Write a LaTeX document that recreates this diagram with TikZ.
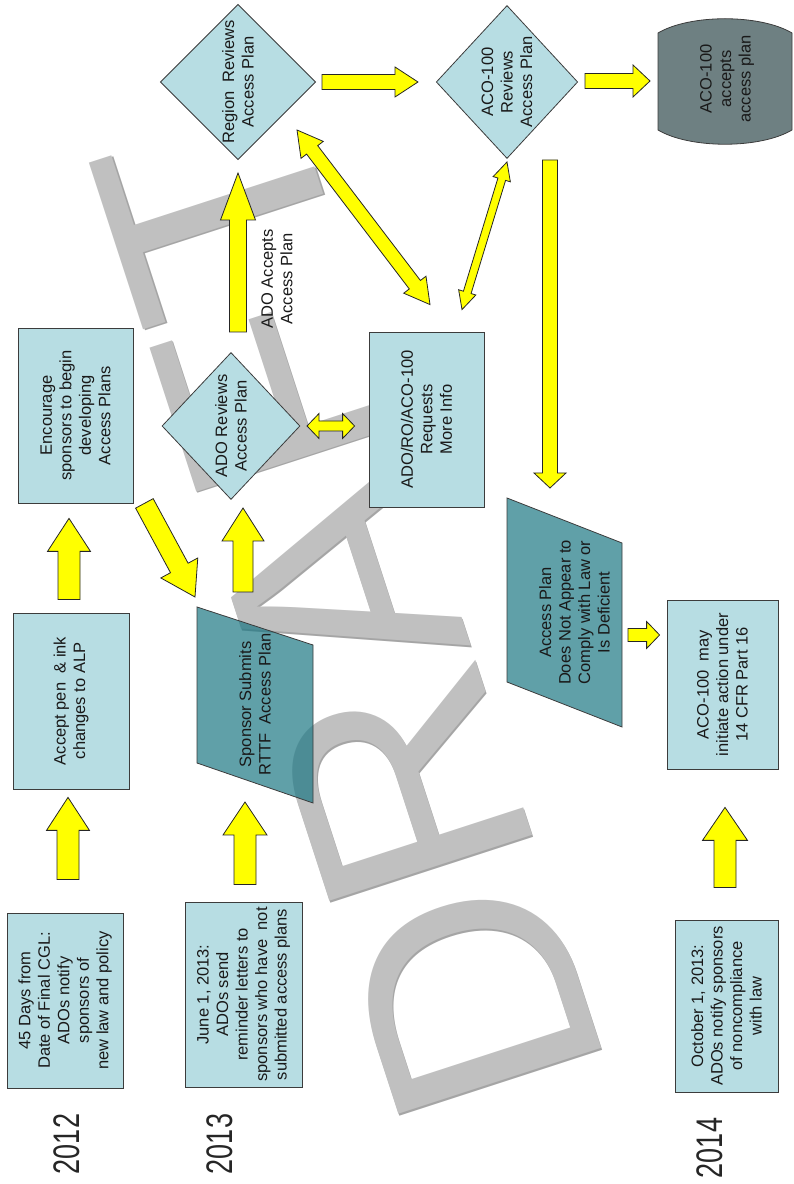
\documentclass[tikz,border=0pt]{standalone}
\usepackage{fontspec}
\setmainfont{Liberation Sans}
\usetikzlibrary{shapes.geometric,calc}

\definecolor{boxblue}{RGB}{183,221,227}
\definecolor{planteal}{RGB}{28,119,131}
\definecolor{okgray}{RGB}{110,128,130}
\definecolor{edge}{RGB}{60,60,60}
\definecolor{ayellow}{RGB}{255,255,0}
\definecolor{wmgray}{RGB}{192,192,192}
\definecolor{wmshade}{RGB}{165,165,165}

\newcommand{\boxfont}{\fontsize{16.5}{19.5}\selectfont}
\newcommand{\yearfont}{\fontsize{37}{37}\selectfont}

% block arrow: from, to, half shaft, half head, head length
\newcommand{\onearrow}[5]{%
  \coordinate (ys) at #1;
  \coordinate (yt) at #2;
  \coordinate (yh) at ($(yt)!#5!(ys)$);
  \draw[yarrow] ($(ys)!#3!90:(yt)$) -- ($(yh)!#3!90:(yt)$) -- ($(yh)!#4!90:(yt)$) -- (yt)
    -- ($(yh)!#4!-90:(yt)$) -- ($(yh)!#3!-90:(yt)$) -- ($(ys)!#3!-90:(yt)$) -- cycle;
}
\newcommand{\twoarrow}[5]{%
  \coordinate (ys) at #1;
  \coordinate (yt) at #2;
  \coordinate (yh) at ($(yt)!#5!(ys)$);
  \coordinate (yg) at ($(ys)!#5!(yt)$);
  \draw[yarrow] (ys) -- ($(yg)!#4!-90:(ys)$) -- ($(yg)!#3!-90:(ys)$) -- ($(yh)!#3!90:(yt)$)
    -- ($(yh)!#4!90:(yt)$) -- (yt) -- ($(yh)!#4!-90:(yt)$) -- ($(yh)!#3!-90:(yt)$)
    -- ($(yg)!#3!90:(ys)$) -- ($(yg)!#4!90:(ys)$) -- cycle;
}

\begin{document}
\begin{tikzpicture}[x=1pt,y=1pt,
  box/.style={draw=edge,fill=boxblue,line width=0.8pt,rotate=90,align=center,inner sep=1pt,font=\boxfont,text=black!90},
  decide/.style={diamond,draw=edge,fill=boxblue,line width=0.8pt,rotate=90,align=center,inner sep=0pt,font=\boxfont,text=black!90},
  plan/.style={draw=edge,fill=planteal,fill opacity=0.7,line width=0.8pt},
  plantext/.style={rotate=90,align=center,font=\boxfont,text=black!90},
  yarrow/.style={draw=black!85,fill=ayellow,line width=0.8pt},
  year/.style={rotate=90,font=\yearfont,text=black!85}]
\useasboundingbox (0,0) rectangle (793,1184);

% watermark
\node[rotate=108,anchor=base west,inner sep=0pt,text=wmshade,font=\fontsize{310}{310}\selectfont] at (611,109.5) {DRAFT};
\node[rotate=108,anchor=base west,inner sep=0pt,text=wmgray,font=\fontsize{310}{310}\selectfont] (wm) at (609.4,111.2) {DRAFT};

\node[year] (y12) at (67,40) {\scalebox{0.73}[1]{2012}};
\node[year] (y13) at (220,40) {\scalebox{0.73}[1]{2013}};
\node[year] (y14) at (710,36) {\scalebox{0.73}[1]{2014}};

\node[box,minimum width=175,minimum height=116] (notify) at (65,183.5) {45 Days from\\Date of Final CGL:\\ADOs notify\\sponsors of\\new law and policy};
\node[box,minimum width=185,minimum height=117] (remind) at (243.5,189.5) {June 1, 2013:\\ADOs send\\reminder letters to\\sponsors who have\ \ not\\submitted access plans};
\node[box,minimum width=172,minimum height=103] (noncomp) at (726.5,178) {October 1, 2013:\\ADOs notify sponsors\\of noncompliance\\with law};
\node[box,minimum width=176,minimum height=116] (penink) at (71,483) {Accept pen\ \ \& ink\\changes to ALP};
\node[box,minimum width=175,minimum height=115] (encourage) at (75.5,768.5) {Encourage\\sponsors to begin\\developing\\Access Plans};
\node[box,minimum width=175,minimum height=115] (moreinfo) at (426.5,764.5) {ADO/RO/ACO-100\\Requests\\More Info};
\node[box,minimum width=169,minimum height=111] (part16) at (722.5,499.5) {ACO-100\ \ may\\initiate action under\\14 CFR Part 16};

\node[decide,minimum width=147,minimum height=138] (adorev) at (231,758) {ADO Reviews\\Access Plan};
\node[decide,minimum width=153,minimum height=139] (regrev) at (238,1102) {Region\ \ Reviews\\Access Plan};
\node[decide,minimum width=153,minimum height=139] (acorev) at (507,1102) {ACO-100\\Reviews\\Access Plan};

\coordinate (subpos) at (255,479.5);
\draw[plan] ($(subpos)+(-58,97.5)$) -- ($(subpos)+(58,59.5)$) -- ($(subpos)+(58,-98.5)$) -- ($(subpos)+(-58,-58.5)$) -- cycle;
\node[plantext] (submit) at (subpos) {Sponsor Submits\\RTTF\ \ Access Plan};

\coordinate (defpos) at (564.5,571.5);
\draw[plan] ($(defpos)+(-57.5,114.5)$) -- ($(defpos)+(57.5,69.5)$) -- ($(defpos)+(57.5,-114.5)$) -- ($(defpos)+(-57.5,-69.5)$) -- cycle;
\node[plantext] (deficient) at ($(defpos)+(10,0)$) {Access Plan\\Does Not Appear to\\Comply with Law or\\Is Deficient};

\coordinate (okpos) at (725,1102.5);
\draw[draw=edge,fill=okgray,line width=0.8pt] ($(okpos)+(-67,-48.5)$) -- ($(okpos)+(-67,48.5)$)
  .. controls ($(okpos)+(-35,67.5)$) and ($(okpos)+(35,67.5)$) .. ($(okpos)+(67,48.5)$) -- ($(okpos)+(67,-48.5)$)
  .. controls ($(okpos)+(35,-67.5)$) and ($(okpos)+(-35,-67.5)$) .. ($(okpos)+(-67,-48.5)$) -- cycle;
\node[plantext] (accepted) at ($(okpos)+(2,2.5)$) {ACO-100\\accepts\\access plan};

\node[plantext] (acclbl) at (277,905) {ADO Accepts\\Access Plan};

% arrows
\onearrow{($(notify.east)+(3,33)$)}{($(penink.west)+(-3,-8)$)}{11pt}{21.5pt}{33pt}
\onearrow{($(penink.east)+(-2,13)$)}{($(encourage.west)+(-6.5,-15)$)}{11pt}{21.5pt}{33pt}
\onearrow{($(encourage.south west)+(11,0)$)}{($(subpos)+(-60,107.5)$)}{10pt}{21pt}{33pt}
\onearrow{($(remind.east)+(1.5,17)$)}{($(subpos)+(-10,-97.5)$)}{11pt}{22pt}{33pt}
\onearrow{($(subpos)+(-12,112.5)$)}{($(adorev)+(12,-82)$)}{10pt}{21pt}{33pt}
\onearrow{($(adorev)+(7,94)$)}{($(regrev)+(0,-91)$)}{8.5pt}{17.5pt}{47pt}
\onearrow{($(regrev)+(84,0)$)}{($(acorev)+(-89,0)$)}{7.5pt}{15pt}{23pt}
\onearrow{($(acorev)+(78,1)$)}{($(okpos)+(-75,0.5)$)}{7.5pt}{16pt}{17pt}
\twoarrow{($(regrev)+(59,-48)$)}{($(moreinfo.east)+(3.5,27)$)}{7pt}{14pt}{25pt}
\twoarrow{($(moreinfo.east)+(35.5,22)$)}{($(acorev)+(0,-80)$)}{4pt}{9pt}{18pt}
\twoarrow{($(adorev)+(76,0)$)}{($(moreinfo.north)+(-14,-6.5)$)}{5pt}{12.5pt}{12pt}
\onearrow{($(acorev)+(43,-78)$)}{($(defpos)+(-14.5,124.5)$)}{7.5pt}{16pt}{15pt}
\onearrow{($(defpos)+(63.5,-22.5)$)}{($(part16.north)+(-7,49.5)$)}{6.5pt}{13.5pt}{13pt}
\onearrow{($(noncomp.east)+(-1.5,32)$)}{($(part16.west)+(2.5,-38)$)}{11pt}{22.5pt}{33pt}
\end{tikzpicture}
\end{document}
